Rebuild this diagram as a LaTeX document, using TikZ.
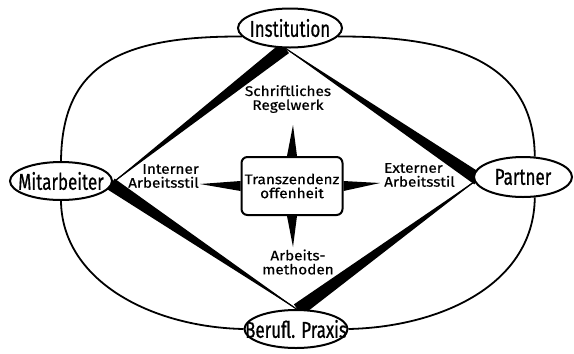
\documentclass[tikz,border=0pt]{standalone}
\usepackage{fontspec}
\newfontfamily\placefont[FakeStretch=0.74,FakeBold=0.6]{Fira Sans}
\newfontfamily\notefont[FakeStretch=1.1,FakeBold=0.5]{Fira Sans}
\usetikzlibrary{shapes.geometric,calc}
\begin{document}
\begin{tikzpicture}[x=1bp,y=-1bp,
  place/.style={ellipse,draw,fill=white,line width=2bp,inner sep=0pt,
    font=\placefont\fontsize{23}{24}\selectfont},
  note/.style={align=center,inner sep=0pt,font=\notefont\fontsize{14}{14}\selectfont},
  ring/.style={line width=1.8bp},
  wedge/.style={fill=black},
  spike/.style={fill=black}]
\useasboundingbox (0,0) rectangle (574,353);

% corners of the diamond
\coordinate (vt) at (285,48);
\coordinate (vl) at (111,184);
\coordinate (vr) at (478,179);
\coordinate (vb) at (298,310);

% tapered sides of the diamond, each thick at one corner and thin at the next
\fill[wedge] ($(vl)!-7pt!(vt)$) -- ($(vt)!6.5pt!90:(vl)$) -- ($(vt)!6.5pt!-90:(vl)$) -- cycle;
\draw[line width=1.2bp] ($(vl)!-7pt!(vt)$) -- (vt);
\fill[wedge] ($(vt)!-7pt!(vr)$) -- ($(vr)!6.5pt!90:(vt)$) -- ($(vr)!6.5pt!-90:(vt)$) -- cycle;
\draw[line width=1.2bp] ($(vt)!-7pt!(vr)$) -- (vr);
\fill[wedge] ($(vr)!-7pt!(vb)$) -- ($(vb)!7pt!90:(vr)$) -- ($(vb)!7pt!-90:(vr)$) -- cycle;
\draw[line width=1.2bp] ($(vr)!-7pt!(vb)$) -- (vb);
\fill[wedge] ($(vb)!-7pt!(vl)$) -- ($(vl)!6.5pt!90:(vb)$) -- ($(vl)!6.5pt!-90:(vb)$) -- cycle;
\draw[line width=1.2bp] ($(vb)!-7pt!(vl)$) -- (vl);

% the four places
\node[place,minimum width=104bp,minimum height=39bp] (inst) at (290,28) {\makebox[0pt]{Institution}};
\node[place,minimum width=102bp,minimum height=38bp] (mit) at (61,181) {\makebox[0pt]{Mitarbeiter}};
\node[place,minimum width=98bp,minimum height=40bp] (part) at (523,177) {\makebox[0pt]{Partner}};
\node[place,minimum width=103bp,minimum height=38bp] (prax) at (296,329) {\makebox[0pt]{Berufl. Praxis}};

% outer ring through the places
\draw[ring] (inst.190) .. controls (117,36) and (62,67) .. (mit.north);
\draw[ring] (inst.-10) .. controls (463,36) and (534,67) .. (part.60);
\draw[ring] (mit.south) .. controls (62,280) and (150,327) .. (prax.west);
\draw[ring] (prax.east) .. controls (440,327) and (534,285) .. (part.-60);

% labels on the inner field
\node[note] (rules) at (288,99) {Schriftliches\\Regelwerk};
\node[note,align=right,anchor=east] (inner) at (199,176) {Interner\\Arbeitsstil};
\node[note,align=left,anchor=west] (outer) at (384,175) {Externer\\Arbeitsstil};
\node[note] (methods) at (298,262) {Arbeits-\\methoden};

% centre box with its four spikes
\node[draw,fill=white,line width=2bp,rounded corners=6bp,minimum width=101bp,
  minimum height=58bp,note] (core) at (292,186) {Transzendenz\\offenheit};
\coordinate (tn) at (293,125);
\coordinate (ts) at (293,247);
\coordinate (tw) at (200,184);
\coordinate (te) at (380,183);
\fill[spike] ($(core.north)+(-5,0)$) -- (tn) -- ($(core.north)+(5,0)$) -- cycle;
\fill[spike] ($(core.south)+(-5,0)$) -- (ts) -- ($(core.south)+(5,0)$) -- cycle;
\fill[spike] ($(core.west)+(0,-5)$) -- (tw) -- ($(core.west)+(0,5)$) -- cycle;
\fill[spike] ($(core.east)+(0,-5)$) -- (te) -- ($(core.east)+(0,5)$) -- cycle;
\end{tikzpicture}
\end{document}
